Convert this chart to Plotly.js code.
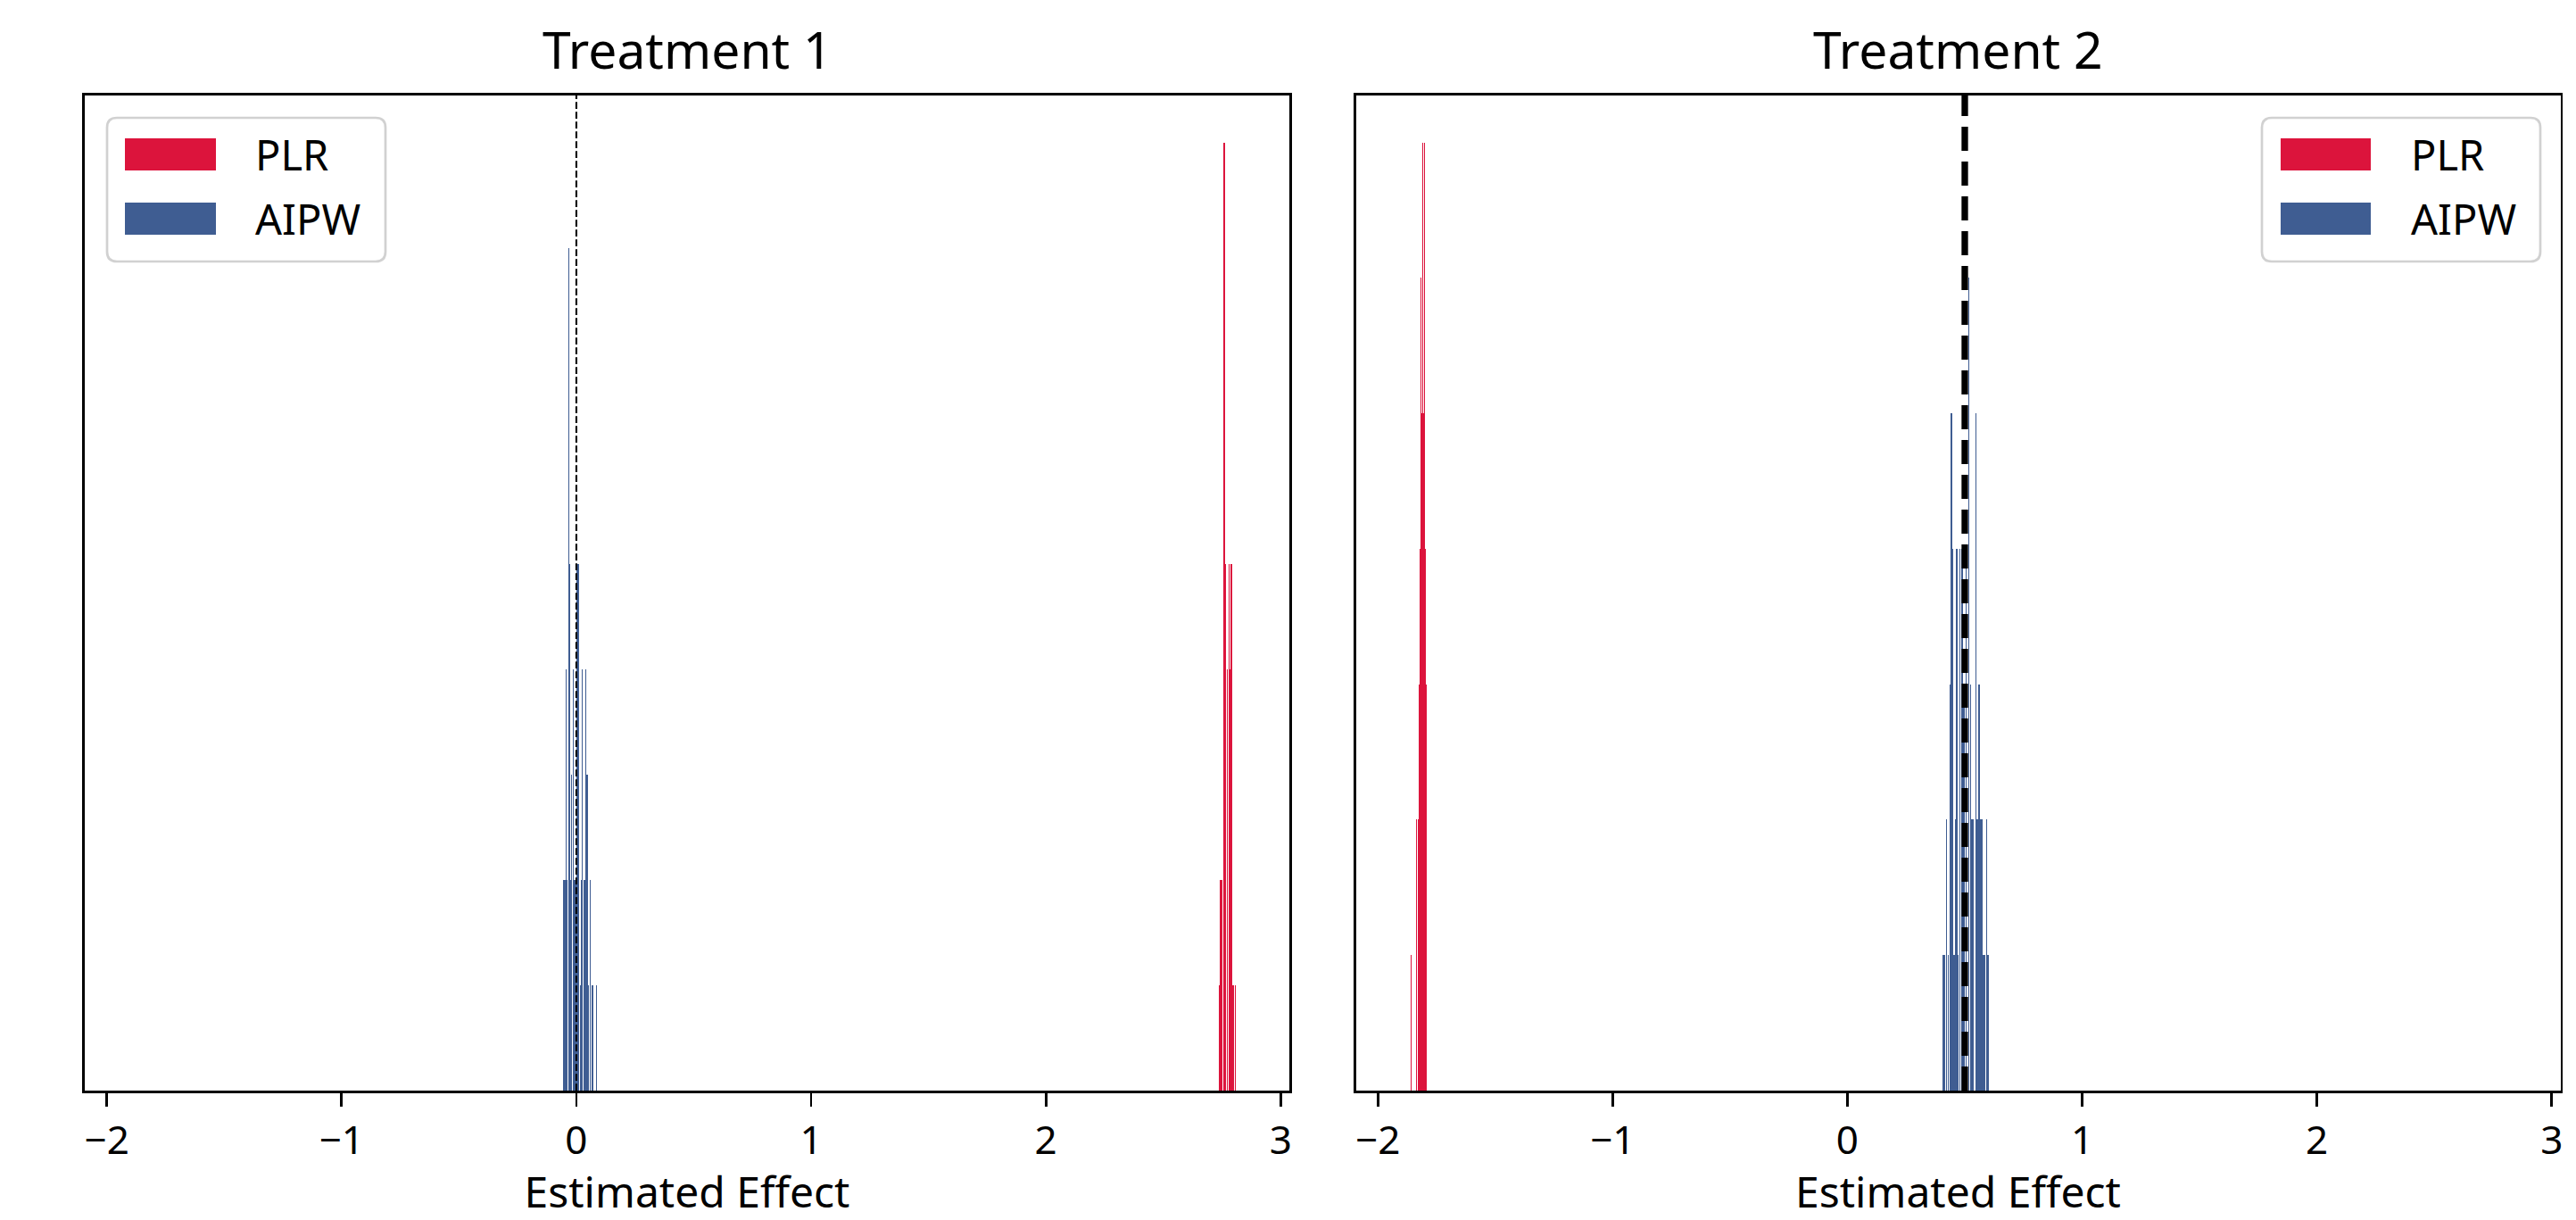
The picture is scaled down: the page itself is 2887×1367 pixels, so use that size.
<!DOCTYPE html>
<html>
<head>
<meta charset="utf-8">
<script src="https://cdn.plot.ly/plotly-3.0.1.min.js"></script>
<style>
  html, body { margin: 0; padding: 0; background: #ffffff; }
  #chart { width: 2887px; height: 1367px; }
</style>
</head>
<body>
<div id="chart"></div>
<script>
// ---------------- data ----------------
const panelTitles = ["Treatment 1", "Treatment 2"];
const methodNames = ["PLR", "AIPW"];
const trueEffects = [0, 0.5];
const tickValues = [-2, -1, 0, 1, 2, 3];

// Treatment 1 histograms: bin centres and counts
const t1PlrX = [2.7385, 2.7440, 2.7490, 2.7565, 2.7600, 2.7660, 2.7720, 2.7795, 2.7840, 2.7905, 2.7980, 2.8070];
const t1PlrCount = [1, 2, 2, 3, 9, 5, 4, 5, 4, 5, 1, 1];
const t1AipwX = [-0.0530, -0.0482, -0.0430, -0.0385, -0.0335, -0.0290, -0.0245, -0.0195, -0.0140, -0.0090, -0.0040,
                 0.0010, 0.0060, 0.0110, 0.0160, 0.0200, 0.0248, 0.0310, 0.0350, 0.0390, 0.0460, 0.0500, 0.0580, 0.0690, 0.0845];
const t1AipwCount = [2, 2, 4, 2, 8, 5, 2, 3, 4, 2, 2, 5, 5, 5, 1, 2, 4, 2, 2, 4, 3, 1, 2, 1, 1];

// Treatment 2 histograms
const t2PlrX = [-1.8570, -1.8345, -1.8290, -1.8250, -1.8205, -1.8165, -1.8125, -1.8085, -1.8045, -1.8005, -1.7965, -1.7925];
const t2PlrCount = [1, 2, 2, 3, 4, 6, 5, 7, 5, 7, 4, 3];
const t2AipwX = [0.4065, 0.4130, 0.4220, 0.4290, 0.4365, 0.4435, 0.4485, 0.4540, 0.4595, 0.4650, 0.4720, 0.4800, 0.4880, 0.4960,
                 0.5050, 0.5165, 0.5240, 0.5300, 0.5360, 0.5465, 0.5530, 0.5605, 0.5680, 0.5745, 0.5800, 0.5865, 0.5930, 0.5990];
const t2AipwCount = [1, 1, 2, 1, 3, 5, 4, 1, 2, 4, 1, 4, 4, 3, 4, 6, 3, 2, 2, 5, 2, 3, 2, 2, 1, 1, 2, 1];

// ---------------- styling ----------------
const W = 2887, H = 1367;
const RED = "#DC143C", BLUE = "#3F5D92";
const FONT = "Noto Sans, DejaVu Sans, sans-serif";
const px = v => v / W;            // pixel -> paper x
const py = v => 1 - v / H;        // pixel -> paper y

const leftDom = [px(95), px(1445)];
const rightDom = [px(1519.5), px(2869.5)];
const yDom = [py(1222), py(106.5)];
const xRange = [-2.094, 3.037];

function barTrace(x, y, name, color, width, xa, ya) {
  return {
    type: "bar", x: x, y: y, name: name, width: width,
    xaxis: xa, yaxis: ya, showlegend: false,
    marker: { color: color, line: { width: 0 } },
    hovertemplate: name + ": %{x}<br>count %{y}<extra></extra>"
  };
}

const data = [
  barTrace(t1PlrX, t1PlrCount, methodNames[0], RED, 0.0052, "x", "y"),
  barTrace(t1AipwX, t1AipwCount, methodNames[1], BLUE, 0.0046, "x", "y"),
  barTrace(t2PlrX, t2PlrCount, methodNames[0], RED, 0.0038, "x2", "y2"),
  barTrace(t2AipwX, t2AipwCount, methodNames[1], BLUE, 0.0055, "x2", "y2")
];

function xAxis(dom, anchor) {
  return {
    domain: dom, anchor: anchor, range: xRange, autorange: false,
    tickmode: "array", tickvals: tickValues,
    ticks: "outside", ticklen: 15, tickwidth: 2.7, tickcolor: "#000",
    showline: true, mirror: true, linecolor: "#000", linewidth: 2.7,
    showgrid: false, zeroline: false,
    tickfont: { family: FONT, size: 44, color: "#000" },
    title: { text: "Estimated Effect", font: { family: FONT, size: 48, color: "#000" }, standoff: 8 }
  };
}
function yAxis(anchor, maxCount) {
  return {
    domain: yDom, anchor: anchor, range: [0, maxCount * 1.05], autorange: false,
    showline: true, mirror: true, linecolor: "#000", linewidth: 2.7,
    ticks: "", showticklabels: false, showgrid: false, zeroline: false
  };
}

const shapes = [];
const annotations = [];

// reference lines at the true effects
shapes.push({ type: "line", xref: "x", yref: "y domain", x0: trueEffects[0], x1: trueEffects[0], y0: 0, y1: 1,
  line: { color: "#000", width: 2.1, dash: "7.7px,3.3px" }, layer: "above" });
shapes.push({ type: "line", xref: "x2", yref: "y2 domain", x0: trueEffects[1], x1: trueEffects[1], y0: 0, y1: 1,
  line: { color: "#000", width: 7.3, dash: "27px,12px" }, layer: "above" });

// panel titles
const titleCenters = [770, 2194.5];
panelTitles.forEach((t, i) => {
  annotations.push({ text: t, xref: "paper", yref: "paper", x: px(titleCenters[i]), y: py(55),
    xanchor: "center", yanchor: "middle", showarrow: false,
    font: { family: FONT, size: 57, color: "#000" } });
});

// legends (matplotlib-style rounded frame with wide patches)
function roundRect(x0, y0, x1, y1, r) {
  const X = px, Y = py;
  const rx = r / W, ry = r / H;
  return "M" + (X(x0) + rx) + "," + Y(y0) +
    " L" + (X(x1) - rx) + "," + Y(y0) +
    " Q" + X(x1) + "," + Y(y0) + " " + X(x1) + "," + (Y(y0) - ry) +
    " L" + X(x1) + "," + (Y(y1) + ry) +
    " Q" + X(x1) + "," + Y(y1) + " " + (X(x1) - rx) + "," + Y(y1) +
    " L" + (X(x0) + rx) + "," + Y(y1) +
    " Q" + X(x0) + "," + Y(y1) + " " + X(x0) + "," + (Y(y1) + ry) +
    " L" + X(x0) + "," + (Y(y0) - ry) +
    " Q" + X(x0) + "," + Y(y0) + " " + (X(x0) + rx) + "," + Y(y0) + " Z";
}
const legendBoxes = [
  { x0: 120, x1: 432, patchX0: 140, patchX1: 242, textX: 284 },
  { x0: 2535, x1: 2847, patchX0: 2556, patchX1: 2657, textX: 2700 }
];
const legendRows = [{ y0: 155, y1: 191 }, { y0: 227, y1: 263 }];
const legendColors = [RED, BLUE];
legendBoxes.forEach(b => {
  shapes.push({ type: "path", xref: "paper", yref: "paper", path: roundRect(b.x0, 132, b.x1, 293, 11),
    line: { color: "rgba(204,204,204,0.9)", width: 2.7 }, fillcolor: "rgba(255,255,255,0.8)", layer: "above" });
  legendRows.forEach((r, k) => {
    shapes.push({ type: "rect", xref: "paper", yref: "paper",
      x0: px(b.patchX0), x1: px(b.patchX1), y0: py(r.y1), y1: py(r.y0),
      fillcolor: legendColors[k], line: { width: 0 }, layer: "above" });
    annotations.push({ text: methodNames[k], xref: "paper", yref: "paper",
      x: px(b.textX), y: py((r.y0 + r.y1) / 2), xanchor: "left", yanchor: "middle", showarrow: false,
      font: { family: FONT, size: 47, color: "#000" } });
  });
});

const layout = {
  width: W, height: H,
  margin: { l: 0, r: 0, t: 0, b: 0, pad: 0 },
  paper_bgcolor: "#fff", plot_bgcolor: "#fff",
  barmode: "overlay", bargap: 0,
  showlegend: false,
  font: { family: FONT, color: "#000" },
  xaxis: xAxis(leftDom, "y"),
  yaxis: yAxis("x", Math.max(...t1PlrCount, ...t1AipwCount)),
  xaxis2: xAxis(rightDom, "y2"),
  yaxis2: yAxis("x2", Math.max(...t2PlrCount, ...t2AipwCount)),
  shapes: shapes,
  annotations: annotations
};

Plotly.newPlot("chart", data, layout, { staticPlot: true, responsive: false });
</script>
</body>
</html>
